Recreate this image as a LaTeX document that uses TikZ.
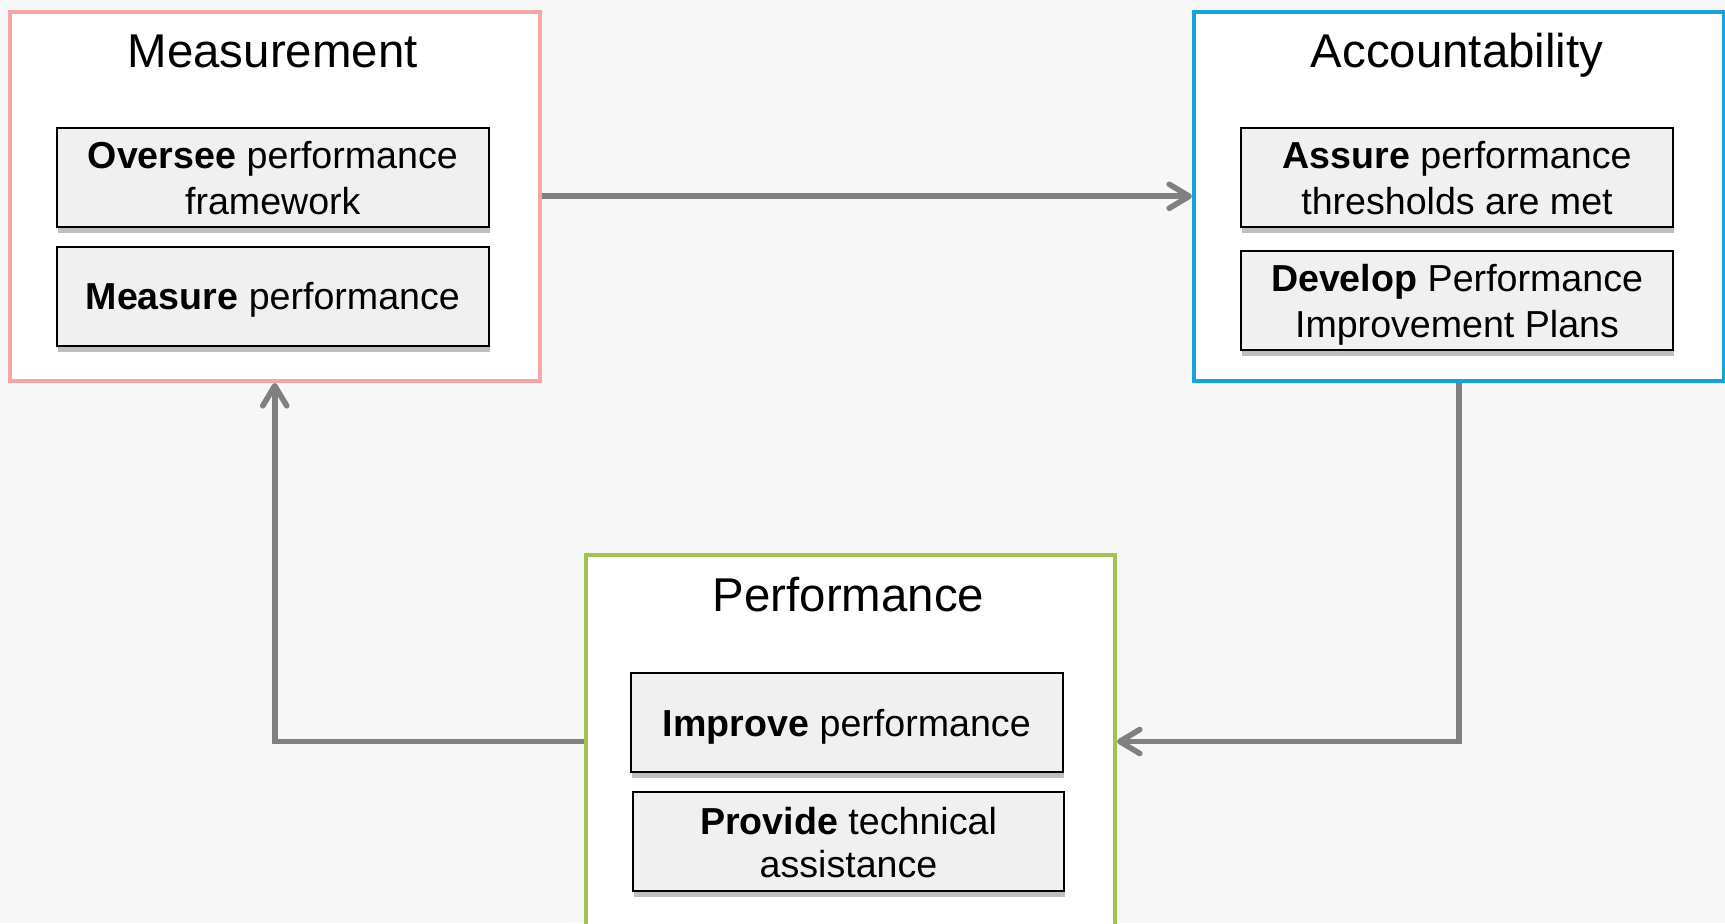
\documentclass[tikz,border=0pt]{standalone}
\usepackage{fontspec}
\setmainfont{Liberation Sans}
\usetikzlibrary{arrows.meta,shadows}
\definecolor{bgc}{HTML}{F7F7F7}
\definecolor{pinkc}{HTML}{F5A5A5}
\definecolor{bluec}{HTML}{1AA0DA}
\definecolor{greenc}{HTML}{A2C152}
\definecolor{itemc}{HTML}{F0F0F0}
\definecolor{arrc}{HTML}{808080}
\newcommand\lnstrut{\rule[-3.75pt]{0pt}{21.5pt}}
\begin{document}
\begin{tikzpicture}[x=0.5pt,y=-0.5pt,
  outer/.style={draw,line width=2pt,fill=white,rectangle,inner sep=0pt,anchor=north west},
  boxtitle/.style={anchor=base,inner sep=0pt,font=\fontsize{23.7}{28}\selectfont},
  item/.style={draw=black,line width=1pt,fill=itemc,rectangle,align=center,inner sep=0pt,
    minimum width=215.8pt,minimum height=49.5pt,
    font=\fontsize{18.8}{21.5}\selectfont,
    drop shadow={shadow xshift=0.6pt,shadow yshift=-3pt,fill=black,opacity=0.25}},
  arr/.style={draw=arrc,line width=2.8pt,-{Straight Barb[length=10pt,width=12pt,round]}}
]
\useasboundingbox (0,0) rectangle (1725,923);
\clip (0,0) rectangle (1725,923);
\fill[bgc] (0,0) rectangle (1725,923);

% outer boxes
\node[outer,draw=pinkc,minimum width=264.75pt,minimum height=184.75pt] (meas) at (8,9.5) {};
\node[outer,draw=bluec,minimum width=265pt,minimum height=184.75pt] (acc) at (1192,9.5) {};
\node[outer,draw=greenc,minimum width=264.5pt,minimum height=186.5pt] (perf) at (584,553) {};

% titles
\node[boxtitle] (measT) at (272.7,67) {Measurement};
\node[boxtitle] (accT) at (1457,67) {Accountability};
\node[boxtitle] (perfT) at (848.5,611) {Performance};

% inner items
\node[item] (ovs) at (272.8,177.5) {\lnstrut\textbf{Oversee} performance\\\lnstrut framework};
\node[item] (mea) at (272.8,296) {\lnstrut\textbf{Measure} performance};
\node[item,minimum width=216pt] (ass) at (1457,177.5) {\lnstrut\textbf{Assure} performance\\\lnstrut thresholds are met};
\node[item,minimum width=216pt] (dev) at (1457,300.5) {\lnstrut\textbf{Develop} Performance\\\lnstrut Improvement Plans};
\node[item,minimum width=215.75pt] (imp) at (846.8,722.5) {\lnstrut\textbf{Improve} performance};
\node[item,minimum width=215.5pt] (prov) at (848.5,841.5) {\lnstrut\textbf{Provide} technical\\\lnstrut assistance};

% connectors
\draw[arr] (meas.east) -- (acc.west);
\draw[arr] (acc.south) |- (perf.east);
\draw[arr] (perf.west) -| (meas.south);
\end{tikzpicture}
\end{document}
